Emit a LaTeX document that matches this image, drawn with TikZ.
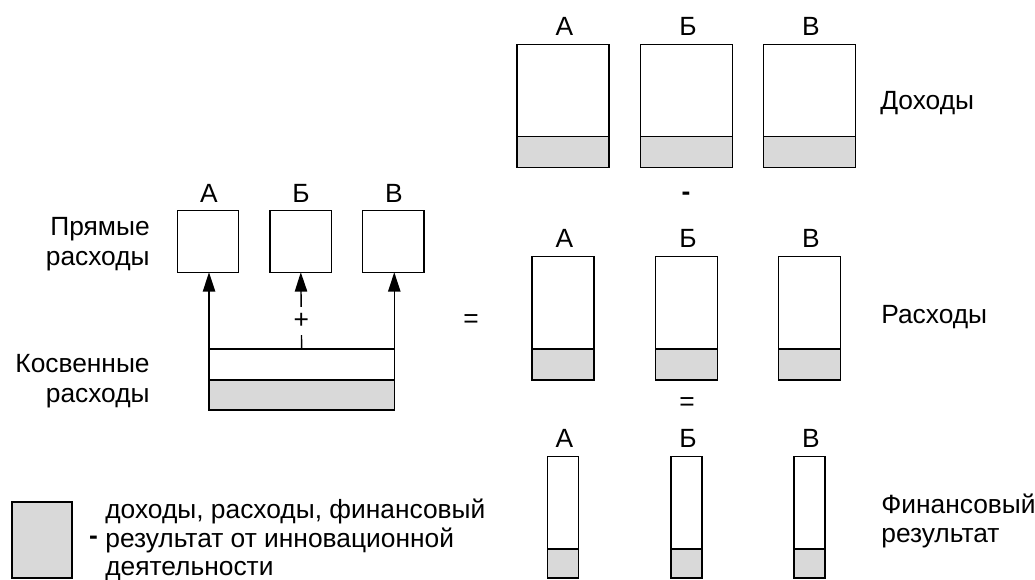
\documentclass[tikz,border=0pt]{standalone}
\usepackage{fontspec}
\setmainfont{Liberation Sans}
\usetikzlibrary{arrows.meta}
\definecolor{shade}{HTML}{D9D9D9}
\begin{document}
\begin{tikzpicture}[x=0.02cm,y=-0.02cm,
  font=\fontsize{15}{17}\selectfont,
  wbox/.style={draw=black, line width=0.8pt, fill=white, inner sep=0pt, outer sep=0pt},
  gbox/.style={draw=black, line width=0.8pt, fill=shade, inner sep=0pt, outer sep=0pt},
  lbl/.style={inner sep=0pt},
  conn/.style={line width=0.8pt, -{Triangle[length=11pt,width=7pt]}}]
\useasboundingbox (0,0) rectangle (1035,580);

% left: direct costs
\node[wbox, minimum width=1.23cm, minimum height=1.23cm] (pa) at (208,241.5) {};
\node[wbox, minimum width=1.23cm, minimum height=1.23cm] (pb) at (300.8,241.5) {};
\node[wbox, minimum width=1.23cm, minimum height=1.23cm] (pc) at (393.3,241.5) {};
\node[lbl] (la) at (209,193) {А};
\node[lbl] (lb) at (301,193) {Б};
\node[lbl] (lc) at (394,193) {В};

% indirect costs bar
\node[wbox, minimum width=3.706cm, minimum height=0.62cm] (kw) at (301.65,364.5) {};
\node[gbox, minimum width=3.706cm, minimum height=0.6cm] (kg) at (301.65,395) {};

\draw[conn] (kw.north west) -- (kw.north west |- pa.south);
\draw[conn] (kw.north) -- node[pos=0.36, fill=white, inner sep=0pt, minimum height=0.56cm] (plus) {+} (pb.south);
\draw[conn] (kw.north east) -- (kw.north east |- pc.south);

\node[lbl, anchor=east, align=right] (pr) at (150,244) {Прямые\\расходы};
\node[lbl, anchor=east, align=right] (kos) at (150,381) {Косвенные\\расходы};

\node[lbl] (eq1) at (471,321) {=};

% three columns: incomes, costs, financial result
\foreach \n/\x/\t in {a/563/А, b/686.5/Б, c/809.5/В}{
  \node[wbox, minimum width=1.84cm, minimum height=1.848cm] (dw\n) at (\x,90.5) {};
  \node[gbox, minimum width=1.84cm, minimum height=0.62cm] (dg\n) at (\x,152.2) {};
  \node[lbl] (dl\n) at (\x+1.5,26) {\t};
  \node[wbox, minimum width=1.24cm, minimum height=1.846cm] (rw\n) at (\x,302.85) {};
  \node[gbox, minimum width=1.24cm, minimum height=0.62cm] (rg\n) at (\x,364.5) {};
  \node[lbl] (rl\n) at (\x+1.5,238) {\t};
  \node[wbox, minimum width=0.62cm, minimum height=1.846cm] (fw\n) at (\x,502.85) {};
  \node[gbox, minimum width=0.62cm, minimum height=0.58cm] (fg\n) at (\x,563.5) {};
  \node[lbl] (fl\n) at (\x+1.5,438) {\t};
}

\node[lbl] (minus1) at (686,196) {\textbf{-}};
\node[lbl] (eq2) at (687,404) {=};

\node[lbl, anchor=west] (dox) at (880,103) {Доходы};
\node[lbl, anchor=west] (rasx) at (881,317) {Расходы};
\node[lbl, anchor=west, align=left] (fin) at (881,521) {Финансовый\\результат};

% legend
\node[gbox, minimum width=1.2cm, minimum height=1.52cm] (leg) at (42,540) {};
\node[lbl] (legdash) at (93.5,540) {\textbf{-}};
\node[lbl, anchor=west, align=left, font=\fontsize{15}{16.2}\selectfont] (legt) at (105,540) {доходы, расходы, финансовый\\результат от инновационной\\деятельности};
\end{tikzpicture}
\end{document}
